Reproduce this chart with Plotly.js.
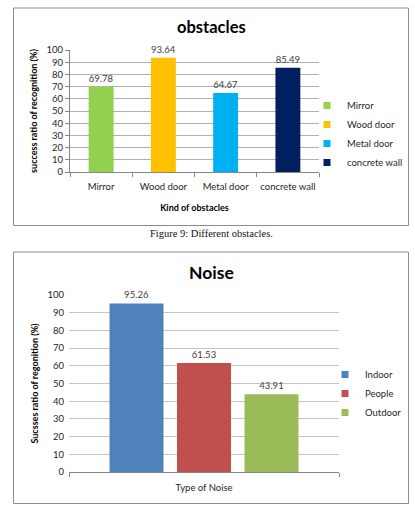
<!DOCTYPE html>
<html>
<head>
<meta charset="utf-8">
<script src="https://cdn.plot.ly/plotly-3.0.1.min.js"></script>
<style>
  html, body { margin: 0; padding: 0; background: #ffffff; }
  #chart { width: 415px; height: 507px; }
</style>
</head>
<body>
<div id="chart"></div>
<script>
// Recognition success per obstacle type
const obstacleNames = ["Mirror", "Wood door", "Metal door", "concrete wall"];
const obstacleRates = [69.78, 93.64, 64.67, 85.49];

// Recognition success per noise condition
const noiseNames = ["Indoor", "People", "Outdoor"];
const noiseRates = [95.26, 61.53, 43.91];
const noiseCategory = "Type of Noise";

// Y-axis ticks shared by both charts
const yTicks = [0, 10, 20, 30, 40, 50, 60, 70, 80, 90, 100];

// Palettes
const obstacleColors = ["#92D050", "#FFC000", "#00B0F0", "#002060"];
const noiseColors = ["#4F81BD", "#C0504D", "#9BBB59"];

const W = 415, H = 507;
const px = v => v / W;
const py = v => 1 - v / H;

const FONT = "Lato, Carlito, 'Open Sans', sans-serif";
const labelFont = { family: FONT, size: 9.5, color: "#404040" };

const traces = [];

// Obstacles: one bar per category
obstacleNames.forEach((name, i) => {
  traces.push({
    type: "bar",
    x: [name],
    y: [obstacleRates[i]],
    name: name,
    width: 0.4,
    offset: -0.2,
    marker: { color: obstacleColors[i] },
    text: [obstacleRates[i].toFixed(2)],
    textposition: "outside",
    textfont: labelFont,
    cliponaxis: false,
    xaxis: "x", yaxis: "y",
    showlegend: false,
    hoverinfo: "x+y"
  });
});
// Small square legend keys for the obstacles chart
obstacleNames.forEach((name, i) => {
  traces.push({
    type: "scatter", mode: "markers",
    x: [null], y: [null],
    name: name,
    marker: { symbol: "square", size: 7, color: obstacleColors[i] },
    xaxis: "x", yaxis: "y",
    legend: "legend",
    hoverinfo: "skip"
  });
});

// Noise: grouped bars in a single category
noiseNames.forEach((name, i) => {
  traces.push({
    type: "bar",
    x: [noiseCategory],
    y: [noiseRates[i]],
    name: name,
    marker: { color: noiseColors[i] },
    text: [noiseRates[i].toFixed(2)],
    textposition: "outside",
    textfont: labelFont,
    cliponaxis: false,
    xaxis: "x2", yaxis: "y2",
    showlegend: false,
    hoverinfo: "name+y"
  });
});
noiseNames.forEach((name, i) => {
  traces.push({
    type: "scatter", mode: "markers",
    x: [null], y: [null],
    name: name,
    marker: { symbol: "square", size: 7, color: noiseColors[i] },
    xaxis: "x2", yaxis: "y2",
    legend: "legend2",
    hoverinfo: "skip"
  });
});

const axisGray = "#868686";

const layout = {
  width: W, height: H,
  margin: { l: 0, r: 0, t: 0, b: 0 },
  paper_bgcolor: "#ffffff",
  plot_bgcolor: "#ffffff",
  font: { family: FONT, size: 9.5, color: "#262626" },
  barmode: "group",
  bargap: 0.25,
  bargroupgap: 0.2,
  xaxis: {
    domain: [px(70), px(319)],
    anchor: "y",
    type: "category",
    showline: true, linecolor: axisGray, linewidth: 1,
    ticks: "outside", tickson: "boundaries", ticklen: 4, tickcolor: axisGray,
    tickangle: 0,
    ticklabelstandoff: 6,
    showgrid: false, zeroline: false,
    tickfont: { family: FONT, size: 9.5, color: "#262626" },
    title: { text: "<b>Kind of obstacles</b>", font: { family: FONT, size: 9, color: "#000000" }, standoff: 13 }
  },
  yaxis: {
    domain: [py(172), py(50)],
    anchor: "x",
    range: [0, 100],
    tickvals: yTicks,
    showline: true, linecolor: axisGray, linewidth: 1,
    ticks: "outside", ticklen: 4, tickcolor: axisGray,
    showgrid: true, gridcolor: "#b0b0b0", zeroline: false,
    tickfont: { family: FONT, size: 9.5, color: "#262626" },
    title: { text: "<b>success ratio of recognition (%)</b>", font: { family: FONT, size: 9, color: "#000000" }, standoff: 7 }
  },
  xaxis2: {
    domain: [px(69), px(339)],
    anchor: "y2",
    type: "category",
    showline: true, linecolor: axisGray, linewidth: 1,
    ticks: "outside", tickson: "boundaries", ticklen: 4, tickcolor: axisGray,
    showticklabels: false,
    showgrid: false, zeroline: false,
    title: { text: noiseCategory, font: { family: FONT, size: 9.5, color: "#262626" }, standoff: 12 }
  },
  yaxis2: {
    domain: [py(472), py(295)],
    anchor: "x2",
    range: [0, 100],
    tickvals: yTicks,
    showline: false, ticks: "",
    showgrid: true, gridcolor: "#c4c4c4", zeroline: false,
    tickfont: { family: FONT, size: 9.5, color: "#262626" },
    ticklabelstandoff: 4,
    title: { text: "<b>Sucsses ratio of regonition (%)</b>", font: { family: FONT, size: 9, color: "#000000" }, standoff: 7 }
  },
  legend: {
    x: px(307), xanchor: "left",
    y: py(91), yanchor: "top",
    font: { family: FONT, size: 9.5, color: "#262626" },
    bgcolor: "rgba(0,0,0,0)",
    itemclick: false, itemdoubleclick: false
  },
  legend2: {
    x: px(325), xanchor: "left",
    y: py(360), yanchor: "top",
    font: { family: FONT, size: 9.5, color: "#262626" },
    bgcolor: "rgba(0,0,0,0)",
    itemclick: false, itemdoubleclick: false
  },
  shapes: [
    { type: "rect", xref: "paper", yref: "paper",
      x0: px(13.5), x1: px(408.5), y0: py(225.5), y1: py(8),
      line: { color: "#8c8c8c", width: 1 }, fillcolor: "rgba(0,0,0,0)", layer: "below" },
    { type: "rect", xref: "paper", yref: "paper",
      x0: px(13.5), x1: px(408.5), y0: py(503.5), y1: py(252),
      line: { color: "#8c8c8c", width: 1 }, fillcolor: "rgba(0,0,0,0)", layer: "below" }
  ],
  annotations: [
    { xref: "paper", yref: "paper", x: px(211), y: py(27), xanchor: "center", yanchor: "middle",
      text: "<b>obstacles</b>", showarrow: false,
      font: { family: FONT, size: 16.5, color: "#000000" } },
    { xref: "paper", yref: "paper", x: px(211), y: py(233), xanchor: "center", yanchor: "middle",
      text: "Figure 9: Different obstacles.", showarrow: false,
      font: { family: "'Liberation Serif', 'DejaVu Serif', serif", size: 10.5, color: "#111111" } },
    { xref: "paper", yref: "paper", x: px(211), y: py(272), xanchor: "center", yanchor: "middle",
      text: "<b>Noise</b>", showarrow: false,
      font: { family: FONT, size: 17.5, color: "#000000" } }
  ]
};

Plotly.newPlot("chart", traces, layout, { displayModeBar: false, staticPlot: true });
</script>
</body>
</html>
